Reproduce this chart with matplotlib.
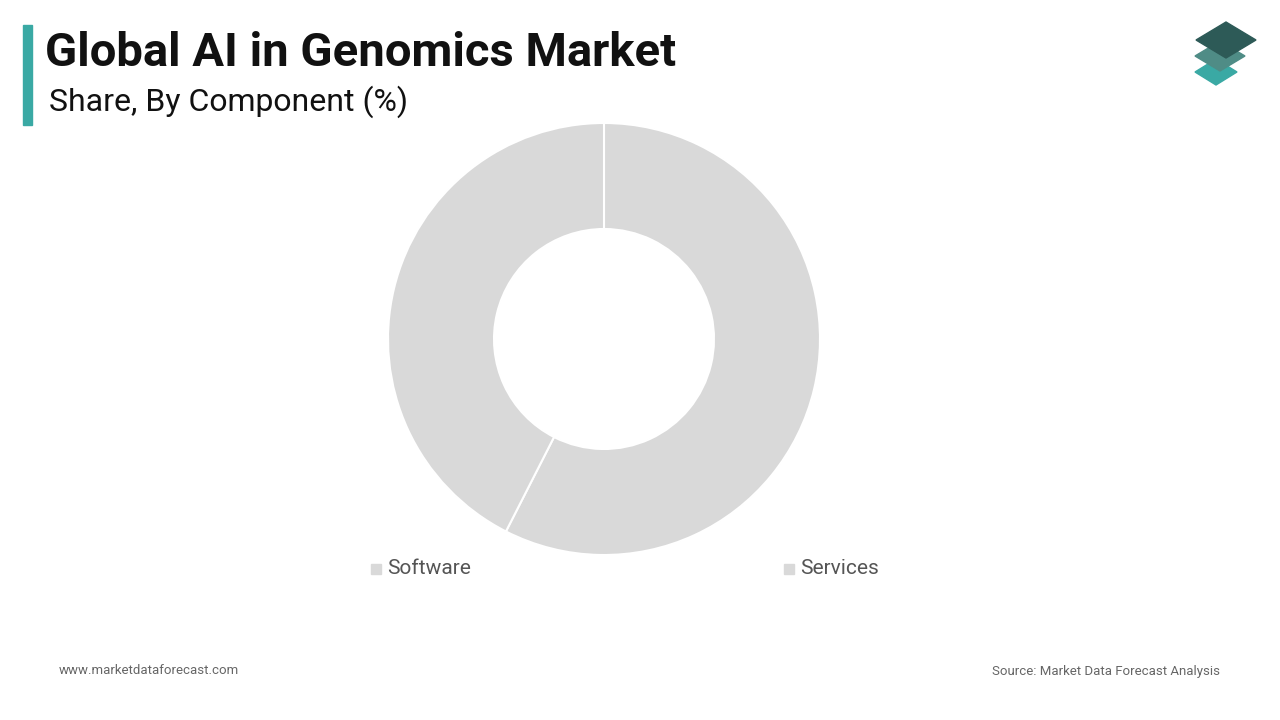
import matplotlib
matplotlib.use("Agg")
import matplotlib.pyplot as plt
from matplotlib.patches import Polygon, Rectangle

categories = ["Software", "Services"]
values = [57.5, 42.5]
colors = ["#d9d9d9", "#d9d9d9"]

plt.rcParams['font.family'] = ['Roboto', 'DejaVu Sans']
fig = plt.figure(figsize=(12.8, 7.2), dpi=100)
fig.patch.set_facecolor("white")

cx, cy, r = 604/1280, 1-339/720, 216
ax = fig.add_axes([cx - r/1280, cy - r/720, 2*r/1280, 2*r/720])
ax.pie(values, colors=colors, startangle=90, counterclock=False,
       wedgeprops=dict(width=106/216, edgecolor="white", linewidth=1.5))
ax.set_aspect("equal")
ax.set_xlim(-1, 1); ax.set_ylim(-1, 1)
ax.axis("off")

for name, x in zip(categories, [371, 784]):
    fig.patches.append(Rectangle((x/1280, 1-574/720), 10/1280, 10/720, color="#d9d9d9", transform=fig.transFigure))
    fig.text((x+16)/1280, 1-569/720, name, fontsize=15, color="#555555", va="center", ha="left")

fig.patches.append(Rectangle((23/1280, 1-125/720), 9/1280, 100/720, color="#3aa9a4", transform=fig.transFigure))
fig.text(45/1280, 1-53/720, "Global AI in Genomics Market", fontsize=34, fontweight="bold", color="#111111", va="center")
fig.text(49/1280, 1-102/720, "Share, By Component (%)", fontsize=23, color="#111111", va="center")

fig.text(59/1280, 1-671/720, "www.marketdataforecast.com", fontsize=9.5, color="#666666", va="center")
fig.text(1220/1280, 1-671/720, "Source: Market Data Forecast Analysis", fontsize=9.5, color="#666666", va="center", ha="right")

def diamond(cxp, cyp, w, h, col):
    pts = [(cxp, cyp-h/2), (cxp+w/2, cyp), (cxp, cyp+h/2), (cxp-w/2, cyp)]
    fig.patches.append(Polygon([(x/1280, 1-y/720) for x, y in pts], closed=True,
                               color=col, transform=fig.transFigure))
diamond(1216, 72, 42, 26, "#3aa9a4")
diamond(1220, 56, 50, 30, "#4f8c86")
diamond(1226, 40, 60, 36, "#2d5a57")

fig.savefig("out.png", dpi=100)
